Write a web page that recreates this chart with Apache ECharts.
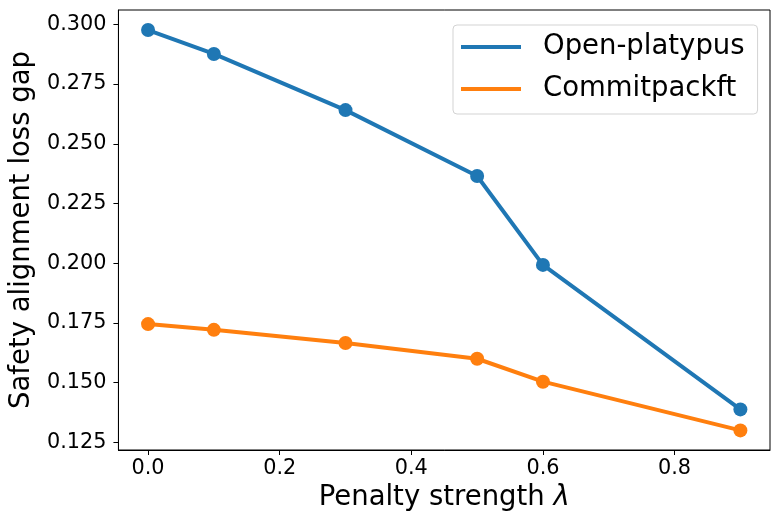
<!DOCTYPE html>
<html>
<head>
<meta charset="utf-8">
<script src="https://cdn.jsdelivr.net/npm/echarts@6/dist/echarts.min.js"></script>
<style>
html,body{margin:0;padding:0;background:#fff;}
#chart{width:779px;height:527px;}
</style>
</head>
<body>
<div id="chart"></div>
<script>
const lambdas = [0.0, 0.1, 0.3, 0.5, 0.6, 0.9];
const openPlatypus = [0.2976, 0.2876, 0.2641, 0.2365, 0.1993, 0.1388];
const commitpackft = [0.1745, 0.1721, 0.1666, 0.1600, 0.1504, 0.1300];
const xTicks = [0.0, 0.2, 0.4, 0.6, 0.8];
const yTicks = [0.125, 0.150, 0.175, 0.200, 0.225, 0.250, 0.275, 0.300];

const font = 'DejaVu Sans';
const chart = echarts.init(document.getElementById('chart'), null, {renderer: 'canvas'});

function pairs(xs, ys) { return xs.map((x, i) => [x, ys[i]]); }

chart.setOption({
  animation: false,
  backgroundColor: '#ffffff',
  grid: {left: 117, right: 9, top: 10, bottom: 77, show: true, borderColor: '#000', borderWidth: 1, backgroundColor: 'transparent'},
  legend: {
    orient: 'vertical',
    left: 453, top: 25,
    padding: [8, 13, 11, 8],
    itemWidth: 60, itemHeight: 4,
    itemGap: 14,
    icon: 'rect',
    borderColor: '#d3d3d3', borderWidth: 1, borderRadius: 4,
    backgroundColor: 'rgba(255,255,255,0.8)',
    textStyle: {fontFamily: font, fontSize: 27.5, color: '#000', lineHeight: 28, padding: [0, 0, 0, 17]},
    data: [{name: 'Open-platypus'}, {name: 'Commitpackft'}]
  },
  xAxis: {
    type: 'value', min: -0.045, max: 0.945,
    name: '{n|Penalty strength }{l|λ}',
    nameLocation: 'middle', nameGap: 33,
    nameTextStyle: {
      rich: {
        n: {fontFamily: font, fontSize: 27.5, color: '#000'},
        l: {fontFamily: font, fontSize: 27.5, fontStyle: 'italic', color: '#000'}
      }
    },
    axisLine: {show: true, onZero: false, lineStyle: {color: '#000', width: 1}},
    axisTick: {show: true, length: 5, lineStyle: {color: '#000', width: 1}, customValues: xTicks},
    axisLabel: {fontFamily: font, fontSize: 20.8, color: '#000', margin: 8, customValues: xTicks, formatter: v => v.toFixed(1)},
    splitLine: {show: false}
  },
  yAxis: {
    type: 'value', min: 0.1218, max: 0.306,
    name: 'Safety alignment loss gap',
    nameLocation: 'middle', nameGap: 80,
    nameTextStyle: {fontFamily: font, fontSize: 27.5, color: '#000'},
    axisLine: {show: true, onZero: false, lineStyle: {color: '#000', width: 1}},
    axisTick: {show: true, length: 5, lineStyle: {color: '#000', width: 1}, customValues: yTicks},
    axisLabel: {fontFamily: font, fontSize: 20.8, color: '#000', margin: 12, customValues: yTicks, formatter: v => v.toFixed(3)},
    splitLine: {show: false}
  },
  series: [
    {
      name: 'Open-platypus', type: 'line', data: pairs(lambdas, openPlatypus),
      symbol: 'circle', symbolSize: 14,
      lineStyle: {color: '#1f77b4', width: 4},
      itemStyle: {color: '#1f77b4'}
    },
    {
      name: 'Commitpackft', type: 'line', data: pairs(lambdas, commitpackft),
      symbol: 'circle', symbolSize: 14,
      lineStyle: {color: '#ff7f0e', width: 4},
      itemStyle: {color: '#ff7f0e'}
    }
  ]
});
</script>
</body>
</html>
